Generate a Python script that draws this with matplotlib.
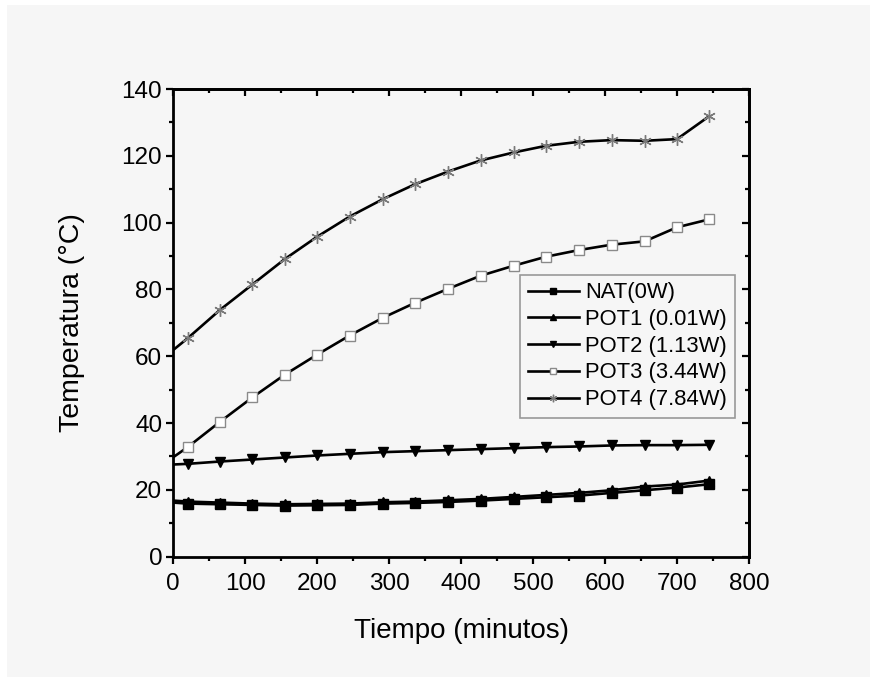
import matplotlib
matplotlib.use("Agg")
import matplotlib.pyplot as plt
from matplotlib.patches import Rectangle
from matplotlib.ticker import MultipleLocator

plt.rcParams['font.family'] = ['Liberation Sans', 'DejaVu Sans']

# tiempo (minutos); el primer punto (t=0) solo une la linea al eje
tiempo = [0, 20, 65, 110, 155, 200, 245, 291, 336, 382, 427, 473, 518, 564, 609, 655, 700, 745]

nat = [16.2, 15.9, 15.7, 15.5, 15.3, 15.4, 15.5, 15.9, 16.1, 16.4, 16.8, 17.3, 17.8, 18.3, 19.1, 19.9, 20.7, 21.7]
pot1 = [16.8, 16.5, 16.2, 15.9, 15.7, 15.8, 15.9, 16.3, 16.5, 16.9, 17.3, 17.9, 18.5, 19.1, 19.9, 21.0, 21.6, 22.8]
pot2 = [27.6, 27.8, 28.5, 29.1, 29.7, 30.3, 30.8, 31.3, 31.6, 31.9, 32.2, 32.5, 32.8, 33.0, 33.3, 33.4, 33.4, 33.5]
pot3 = [29.8, 32.8, 40.4, 47.7, 54.5, 60.5, 66.2, 71.5, 76.0, 80.2, 84.1, 87.1, 89.8, 91.8, 93.4, 94.4, 98.6, 101.0]
pot4 = [61.9, 65.4, 73.9, 81.5, 89.1, 95.8, 101.8, 107.0, 111.5, 115.3, 118.6, 121.0, 123.0, 124.2, 124.7, 124.5, 125.0, 131.9]

labels = ['NAT(0W)', 'POT1 (0.01W)', 'POT2 (1.13W)', 'POT3 (3.44W)', 'POT4 (7.84W)']

bg = '#f6f6f6'
fig = plt.figure(figsize=(8.77, 6.82), dpi=100, facecolor='white')
fig.patches.append(Rectangle((7 / 877, 5 / 682), 863 / 877, 672 / 682,
                             transform=fig.transFigure, facecolor=bg,
                             edgecolor='none', zorder=-10))
ax = fig.add_axes([0.1976, 0.1837, 0.6564, 0.6858])
ax.set_facecolor(bg)

common = dict(color='black', lw=1.9, markevery=slice(1, None), clip_on=True)
ax.plot(tiempo, nat, marker='s', ms=6.5, mfc='black', mec='black', label=labels[0], **common)
ax.plot(tiempo, pot1, marker='^', ms=7.5, mfc='black', mec='black', label=labels[1], **common)
ax.plot(tiempo, pot2, marker='v', ms=7.5, mfc='black', mec='black', label=labels[2], **common)
ax.plot(tiempo, pot3, marker='s', ms=7.5, mfc='white', mec='#8a8a8a', mew=1.0, label=labels[3], **common)
ax.plot(tiempo, pot4, marker=(6, 2, 0), ms=9, mec='#7a7a7a', mew=1.0, label=labels[4], **common)

ax.set_xlim(0, 800)
ax.set_ylim(0, 140)
ax.xaxis.set_major_locator(MultipleLocator(100))
ax.xaxis.set_minor_locator(MultipleLocator(50))
ax.yaxis.set_major_locator(MultipleLocator(20))
ax.yaxis.set_minor_locator(MultipleLocator(10))

for s in ax.spines.values():
    s.set_linewidth(2.0)
ax.tick_params(which='major', direction='out', length=5, width=1.6, labelsize=17.5)
ax.tick_params(which='minor', direction='out', length=3, width=1.6)
ax.tick_params(axis='x', which='major', pad=7)
ax.tick_params(axis='y', which='major', pad=3)

# ticks hacia dentro en los ejes de arriba y derecha
top = ax.secondary_xaxis('top')
top.xaxis.set_major_locator(MultipleLocator(100))
top.xaxis.set_minor_locator(MultipleLocator(50))
top.tick_params(which='major', direction='in', length=5, width=1.6, labeltop=False)
top.tick_params(which='minor', direction='in', length=3, width=1.6)
right = ax.secondary_yaxis('right')
right.yaxis.set_major_locator(MultipleLocator(20))
right.yaxis.set_minor_locator(MultipleLocator(10))
right.tick_params(which='major', direction='in', length=5, width=1.6, labelright=False)
right.tick_params(which='minor', direction='in', length=3, width=1.6)
for sec in (top, right):
    for s in sec.spines.values():
        s.set_linewidth(2.0)

ax.set_xlabel('Tiempo (minutos)', fontsize=20, labelpad=16)
ax.set_ylabel('Temperatura (°C)', fontsize=20.5, labelpad=26)

leg = ax.legend(loc='upper left', bbox_to_anchor=(0.603, 0.603), fontsize=15.8,
                frameon=True, fancybox=False, edgecolor='#999999', facecolor=bg,
                framealpha=1, handlelength=2.3, handletextpad=0.3,
                labelspacing=0.26, borderpad=0.35, borderaxespad=0, markerscale=0.6)
leg.get_frame().set_linewidth(1.2)

fig.savefig('out.png', dpi=100, facecolor='white')
